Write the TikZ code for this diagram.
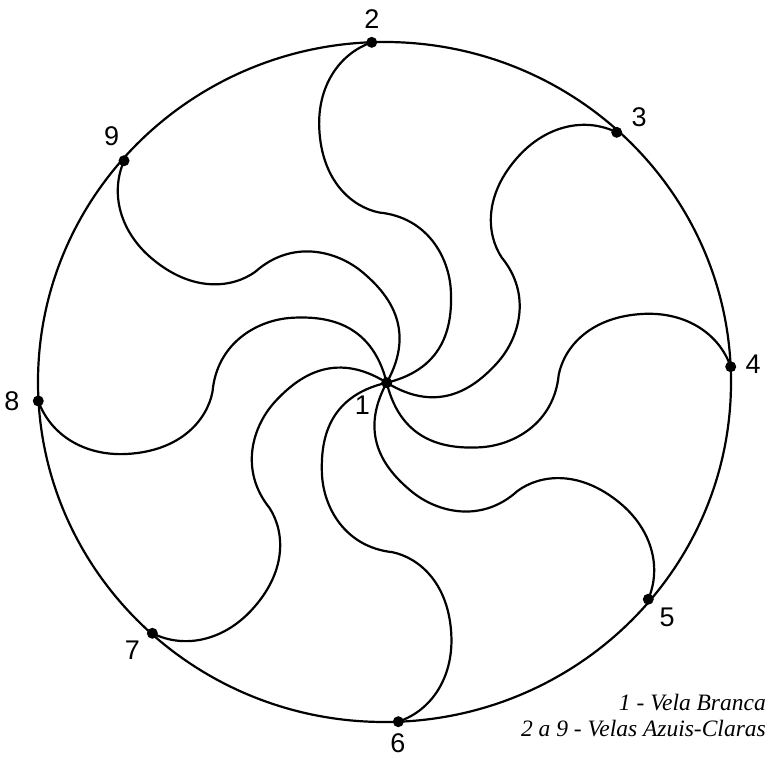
\documentclass[tikz,border=0pt]{standalone}
\usepackage{fontspec}
\setmainfont{Liberation Serif}
\newfontfamily\labfont{Liberation Sans}
\begin{document}
\begin{tikzpicture}[x=1pt,y=1pt]
\useasboundingbox (0,0) rectangle (768,758);
\tikzset{
  ring/.style={line width=2.2pt},
  sail/.style={line width=2.2pt},
  dotnode/.style={circle, fill=black, inner sep=0pt, minimum size=11pt},
  num/.style={inner sep=0pt, font=\labfont\fontsize{27}{27}\selectfont},
  legend/.style={inner sep=0pt, anchor=base east, font=\itshape\fontsize{23.5}{26}\selectfont}
}
\coordinate (c) at (386.7,375.3);
\draw[ring] (384.5,376) ellipse [x radius=346.5, y radius=340];
\foreach \n/\ang/\R in {2/92.52/340.7, 3/47.43/340.0, 4/2.66/344.4, 5/-39.62/339.6, 6/-88.04/339.2, 7/-133.08/343.1, 8/183.0/348.9, 9/139.80/343.9}{
  \begin{scope}[shift={(c)}, rotate=\ang]
    \coordinate (p\n) at (\R,0);
    \draw[sail] (p\n) .. controls ({0.97*\R},{0.10*\R}) and ({0.875*\R},{0.165*\R}) .. ({0.755*\R},{0.165*\R})
      .. controls ({0.60*\R},{0.165*\R}) and ({0.52*\R},{0.08*\R}) .. ({0.50*\R},0)
      .. controls ({0.48*\R},{-0.14*\R}) and ({0.36*\R},{-0.20*\R}) .. ({0.26*\R},{-0.20*\R})
      .. controls ({0.17*\R},{-0.20*\R}) and ({0.035*\R},{-0.18*\R}) .. (c);
  \end{scope}
}
\node[dotnode] (d1) at (c) {};
\foreach \n in {2,...,9}{ \node[dotnode] (d\n) at (p\n) {}; }
\node[num] (l1) at (362.5,353) {1};
\node[num] (l2) at (372,738.5) {2};
\node[num] (l3) at (639,641) {3};
\node[num] (l4) at (753,394) {4};
\node[num] (l5) at (667,141) {5};
\node[num] (l6) at (398,15) {6};
\node[num] (l7) at (132.5,108) {7};
\node[num] (l8) at (12,357) {8};
\node[num] (l9) at (111.7,621.3) {9};
\node[legend] (leg1) at (766,48) {1 - Vela Branca};
\node[legend] (leg2) at (766,22) {2 a 9 - Velas Azuis-Claras};
\end{tikzpicture}
\end{document}
